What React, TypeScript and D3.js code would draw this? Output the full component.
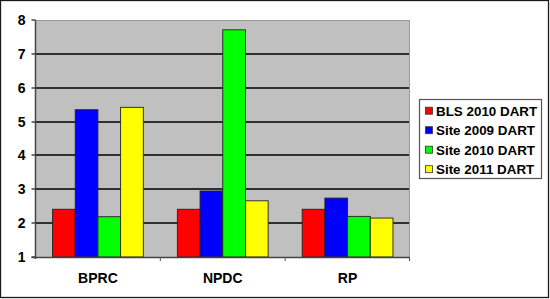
import React from "react";
import * as d3 from "d3";

const categories = ["BPRC", "NPDC", "RP"];
const seriesNames = ["BLS 2010 DART", "Site 2009 DART", "Site 2010 DART", "Site 2011 DART"];
const seriesColors = ["#FF0000", "#0000FF", "#00FF00", "#FFFF00"];
const bls2010 = [2.41, 2.41, 2.41];
const site2009 = [5.35, 2.95, 2.74];
const site2010 = [2.19, 7.71, 2.2];
const site2011 = [5.42, 2.66, 2.15];
const yTicks = [1, 2, 3, 4, 5, 6, 7, 8];

const W = 550;
const H = 299;
const PL = 35.5;
const PR = 410;
const PT = 20;
const PB = 257;

export default function App() {
  const series = [bls2010, site2009, site2010, site2011];
  const x = d3.scaleBand<string>().domain(categories).range([PL, PR]).paddingInner(0).paddingOuter(0);
  const y = d3.scaleLinear().domain([1, 8]).range([PB, PT]);
  const bw = x.bandwidth() / (series.length + 1.5);
  const groupOffset = (x.bandwidth() - bw * series.length) / 2;
  const font = "Arial, 'Liberation Sans', sans-serif";
  const gridTicks = yTicks.filter((t) => t > 1 && t < 8);

  return (
    <svg width={W} height={H} style={{ position: "absolute", left: 0, top: 0 }} fontFamily={font}>
      <rect x={0} y={0} width={W} height={H} fill="#fff" />
      <rect x={PL} y={PT} width={PR - PL} height={PB - PT} fill="#C0C0C0" />
      <g>
        {gridTicks.map((t) => (
          <line key={"dg" + t} x1={PL} x2={PR} y1={Math.round(y(t))} y2={Math.round(y(t))} stroke="#303030" strokeWidth={2} />
        ))}
      </g>
      <path d={`M${PL},${PT + 0.5}H${PR - 0.5}V${PB}`} stroke="#999" strokeWidth={1} fill="none" />
      {series.map((vals, si) =>
        vals.map((v, ci) => {
          const bx = (x(categories[ci]) as number) + groupOffset + si * bw;
          return (
            <rect
              key={`${si}-${ci}`}
              x={bx}
              y={y(v)}
              width={bw}
              height={y(1) - y(v)}
              fill={seriesColors[si]}
              stroke="#222"
              strokeWidth={0.9}
            />
          );
        })
      )}
      <line x1={PL} x2={PL} y1={PT} y2={PB + 2} stroke="#444" strokeWidth={1.5} />
      {yTicks.map((t) => (
        <g key={t}>
          <line x1={PL - 4} x2={PL} y1={Math.round(y(t))} y2={Math.round(y(t))} stroke="#444" strokeWidth={1.5} />
          <text x={25.5} y={y(t)} dy="0.36em" textAnchor="end" fontSize={14} fontWeight="bold" fill="#000">
            {t}
          </text>
        </g>
      ))}
      <line x1={PL - 4} x2={PR} y1={PB + 0.5} y2={PB + 0.5} stroke="#444" strokeWidth={1.5} />
      {categories.map((c, i) => (
        <g key={c}>
          {i > 0 && (
            <line x1={x(c) as number} x2={x(c) as number} y1={PB} y2={PB + 4} stroke="#555" strokeWidth={1} />
          )}
          <text
            x={(x(c) as number) + x.bandwidth() / 2}
            y={278}
            dy="0.36em"
            textAnchor="middle"
            fontSize={14}
            fontWeight="bold"
            fill="#000"
          >
            {c}
          </text>
        </g>
      ))}
      <line x1={PR - 0.5} x2={PR - 0.5} y1={PB} y2={PB + 4} stroke="#555" strokeWidth={1} />
      <rect x={419.5} y={99.5} width={122} height={79} fill="#fff" stroke="#555" strokeWidth={1.2} />
      {seriesNames.map((n, i) => {
        const cy = 110.7 + i * 19.5;
        return (
          <g key={n}>
            <rect x={425.5} y={cy - 3.5} width={7} height={7} fill={seriesColors[i]} stroke="#333" strokeWidth={0.8} />
            <text x={436} y={cy} dy="0.36em" fontSize={13.4} fontWeight="bold" fill="#000">
              {n}
            </text>
          </g>
        );
      })}
      <rect x={0.5} y={0.5} width={548} height={297} fill="none" stroke="#1a1a1a" strokeWidth={1.3} />
    </svg>
  );
}
